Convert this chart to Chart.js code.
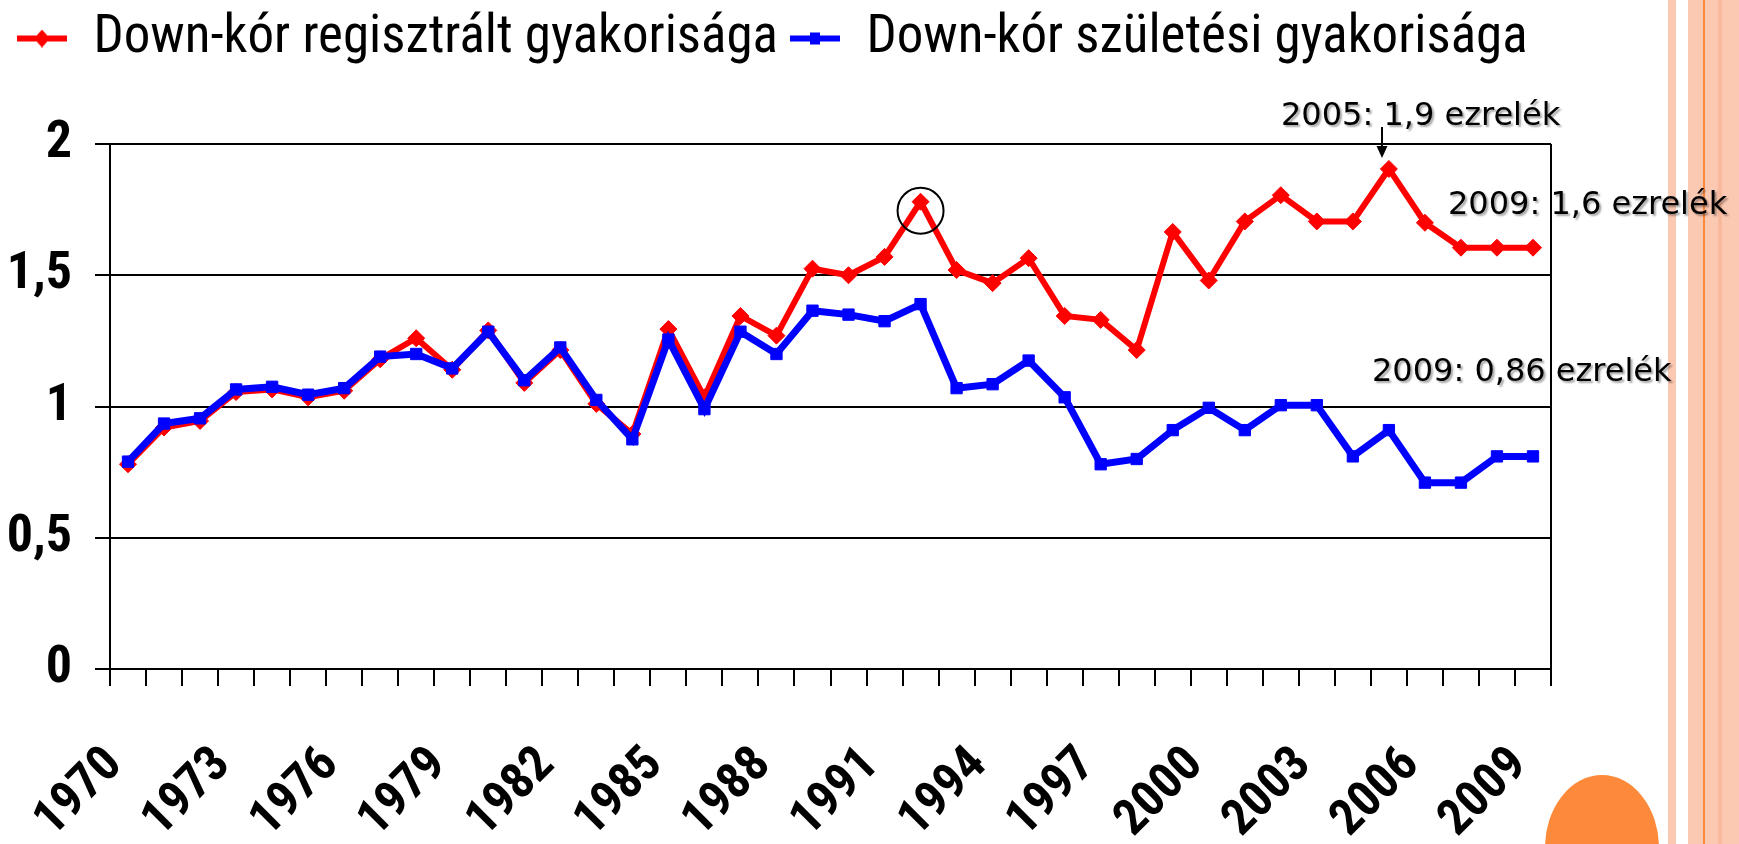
<!DOCTYPE html>
<html lang="hu">
<head>
<meta charset="UTF-8" />
<title>Down-kór gyakorisága</title>
<script src="https://cdn.jsdelivr.net/npm/chart.js@4.4.1/dist/chart.umd.min.js"></script>
<style>
  html, body { margin: 0; padding: 0; background: #fff; }
  #wrap { position: relative; width: 1739px; height: 844px; }
</style>
</head>
<body>
<div id="wrap"><canvas id="downChart"></canvas></div>
<script>
// categories
const years = ['1970', '1971', '1972', '1973', '1974', '1975', '1976', '1977', '1978', '1979',
               '1980', '1981', '1982', '1983', '1984', '1985', '1986', '1987', '1988', '1989',
               '1990', '1991', '1992', '1993', '1994', '1995', '1996', '1997', '1998', '1999',
               '2000', '2001', '2002', '2003', '2004', '2005', '2006', '2007', '2008', '2009'];
// only every third year gets a label
const shownYears = ['1970', '1973', '1976', '1979', '1982', '1985', '1988', '1991', '1994',
                    '1997', '2000', '2003', '2006', '2009'];

// per mille
const registered = [0.78, 0.92, 0.945, 1.055, 1.065, 1.035, 1.06, 1.18, 1.26, 1.14,
                    1.29, 1.09, 1.215, 1.01, 0.895, 1.295, 1.035, 1.345, 1.27, 1.525,
                    1.5, 1.57, 1.78, 1.52, 1.47, 1.565, 1.345, 1.33, 1.215, 1.665,
                    1.48, 1.705, 1.805, 1.705, 1.705, 1.905, 1.7, 1.605, 1.605, 1.605];
const births = [0.79, 0.935, 0.955, 1.065, 1.075, 1.045, 1.07, 1.19, 1.2, 1.145,
                1.285, 1.1, 1.225, 1.025, 0.875, 1.255, 0.99, 1.285, 1.2, 1.365,
                1.35, 1.325, 1.39, 1.07, 1.085, 1.175, 1.035, 0.78, 0.8, 0.91,
                0.995, 0.91, 1.005, 1.005, 0.81, 0.91, 0.71, 0.71, 0.81, 0.81];

const seriesNames = ['Down-kór regisztrált gyakorisága', 'Down-kór születési gyakorisága'];
const yTicks = ['0', '0,5', '1', '1,5', '2'];
const notes = ['2005: 1,9 ezrelék', '2009: 1,6 ezrelék', '2009: 0,86 ezrelék'];

const narrow = "'Roboto Condensed', 'Liberation Sans', Arial, sans-serif";

// legend marker: short thick line with the point shape in the middle
function legendMarker(color, shape) {
  const c = document.createElement('canvas');
  c.width = 50;
  c.height = 18;
  const g = c.getContext('2d');
  g.fillStyle = color;
  g.fillRect(0, 6, 50, 6);
  if (shape === 'diamond') {
    g.beginPath();
    g.moveTo(25, 0); g.lineTo(33, 9); g.lineTo(25, 18); g.lineTo(17, 9);
    g.closePath();
    g.fill();
  } else {
    g.fillRect(20, 3, 10, 12);
  }
  return c;
}
const markers = [legendMarker('#ff0000', 'diamond'), legendMarker('#0000ff', 'square')];

// slide decoration, notes, arrow, circle, right frame line
const decor = {
  id: 'decor',
  beforeDraw(chart) {
    const ctx = chart.ctx;
    ctx.save();
    ctx.fillStyle = '#fff';
    ctx.fillRect(0, 0, chart.width, chart.height);
    ctx.fillStyle = '#fbc8b2';
    ctx.fillRect(1668, 0, 8, chart.height);
    ctx.fillRect(1688, 0, 51, chart.height);
    ctx.fillStyle = '#f9b99c';
    ctx.fillRect(1718, 0, 4, chart.height);
    ctx.fillStyle = '#f98a3c';
    ctx.fillRect(1703, 0, 2, chart.height);
    ctx.fillStyle = '#fc8a3a';
    ctx.beginPath();
    ctx.ellipse(1602, 848, 57, 73, 0, 0, Math.PI * 2);
    ctx.fill();
    ctx.restore();
  },
  afterDraw(chart) {
    const ctx = chart.ctx;
    const area = chart.chartArea;
    const x = chart.scales.x, y = chart.scales.y;
    ctx.save();
    // right edge of the plot frame
    ctx.strokeStyle = '#000';
    ctx.lineWidth = 2;
    ctx.beginPath();
    ctx.moveTo(area.right, area.top);
    ctx.lineTo(area.right, area.bottom);
    ctx.stroke();

    // circle round the 1992 peak
    const cx = x.getPixelForValue(22);
    const cy = y.getPixelForValue(registered[22]) + 9;
    ctx.beginPath();
    ctx.arc(cx, cy, 23, 0, Math.PI * 2);
    ctx.stroke();

    // arrow to the 2005 peak
    ctx.beginPath();
    ctx.moveTo(1382, 127);
    ctx.lineTo(1382, 148);
    ctx.stroke();
    ctx.fillStyle = '#000';
    ctx.beginPath();
    ctx.moveTo(1376.5, 146); ctx.lineTo(1387.5, 146); ctx.lineTo(1382, 158);
    ctx.closePath();
    ctx.fill();

    // notes with a soft shadow
    ctx.font = "32px 'DejaVu Sans', Verdana, sans-serif";
    ctx.textAlign = 'left';
    ctx.textBaseline = 'alphabetic';
    ctx.shadowColor = 'rgba(0,0,0,0.35)';
    ctx.shadowOffsetX = 2;
    ctx.shadowOffsetY = 2;
    ctx.shadowBlur = 2;
    ctx.fillText(notes[0], 1281, 125);
    ctx.fillText(notes[1], 1448, 214);
    ctx.fillText(notes[2], 1372, 381);
    ctx.restore();
  }
};

Chart.defaults.color = '#000';

new Chart(document.getElementById('downChart'), {
  type: 'line',
  data: {
    labels: years,
    datasets: [
      {
        label: seriesNames[0],
        data: registered,
        order: 1,
        borderColor: '#ff0000',
        backgroundColor: '#ff0000',
        borderWidth: 6,
        pointStyle: 'rectRot',
        pointRadius: 8.5,
        pointBorderWidth: 1,
        pointBackgroundColor: '#ff0000',
        pointBorderColor: '#ff0000',
        tension: 0
      },
      {
        label: seriesNames[1],
        data: births,
        order: 0,
        borderColor: '#0000ff',
        backgroundColor: '#0000ff',
        borderWidth: 7,
        pointStyle: 'rect',
        pointRadius: 8,
        pointBorderWidth: 1,
        pointBackgroundColor: '#0000ff',
        pointBorderColor: '#0000ff',
        tension: 0
      }
    ]
  },
  options: {
    responsive: true,
    maintainAspectRatio: false,
    animation: false,
    layout: { padding: { left: 5, right: 40, top: 0, bottom: 0 } },
    plugins: {
      tooltip: { enabled: false },
      // empty title used as a spacer between legend and plot (lighter weight = below legend)
      title: {
        display: true,
        text: '',
        weight: 500,
        font: { size: 10 },
        padding: { top: 29, bottom: 28 }
      },
      legend: {
        position: 'top',
        align: 'start',
        labels: {
          usePointStyle: true,
          pointStyleWidth: 50,
          boxHeight: 18,
          padding: 12,
          color: '#000',
          font: { family: narrow, size: 53 },
          sort: (a, b) => a.datasetIndex - b.datasetIndex,
          generateLabels(chart) {
            const items = Chart.defaults.plugins.legend.labels.generateLabels(chart);
            items.forEach((it) => { it.pointStyle = markers[it.datasetIndex]; });
            return items;
          }
        }
      }
    },
    scales: {
      x: {
        offset: true,
        grid: { offset: true, drawOnChartArea: false, color: '#000', lineWidth: 2, tickLength: 17 },
        border: { color: '#000', width: 2 },
        ticks: {
          autoSkip: false,
          minRotation: 45,
          maxRotation: 45,
          padding: 50,
          labelOffset: -13,
          color: '#000',
          font: { family: narrow, size: 50, weight: 'bold' },
          callback: (val, i) => (shownYears.includes(years[i]) ? years[i] : '')
        },
        afterFit: (scale) => {
          scale.height = 175;
          scale.paddingRight = 188;
        }
      },
      y: {
        min: 0,
        max: 2,
        grid: { color: '#000', lineWidth: 2, tickLength: 15 },
        border: { color: '#000', width: 2 },
        ticks: {
          stepSize: 0.5,
          padding: 23,
          color: '#000',
          font: { family: narrow, size: 52, weight: 'bold' },
          callback: (val) => yTicks[Math.round(val * 2)]
        },
        afterFit: (scale) => { scale.width = 105; }
      }
    }
  },
  plugins: [decor]
});
</script>
</body>
</html>
